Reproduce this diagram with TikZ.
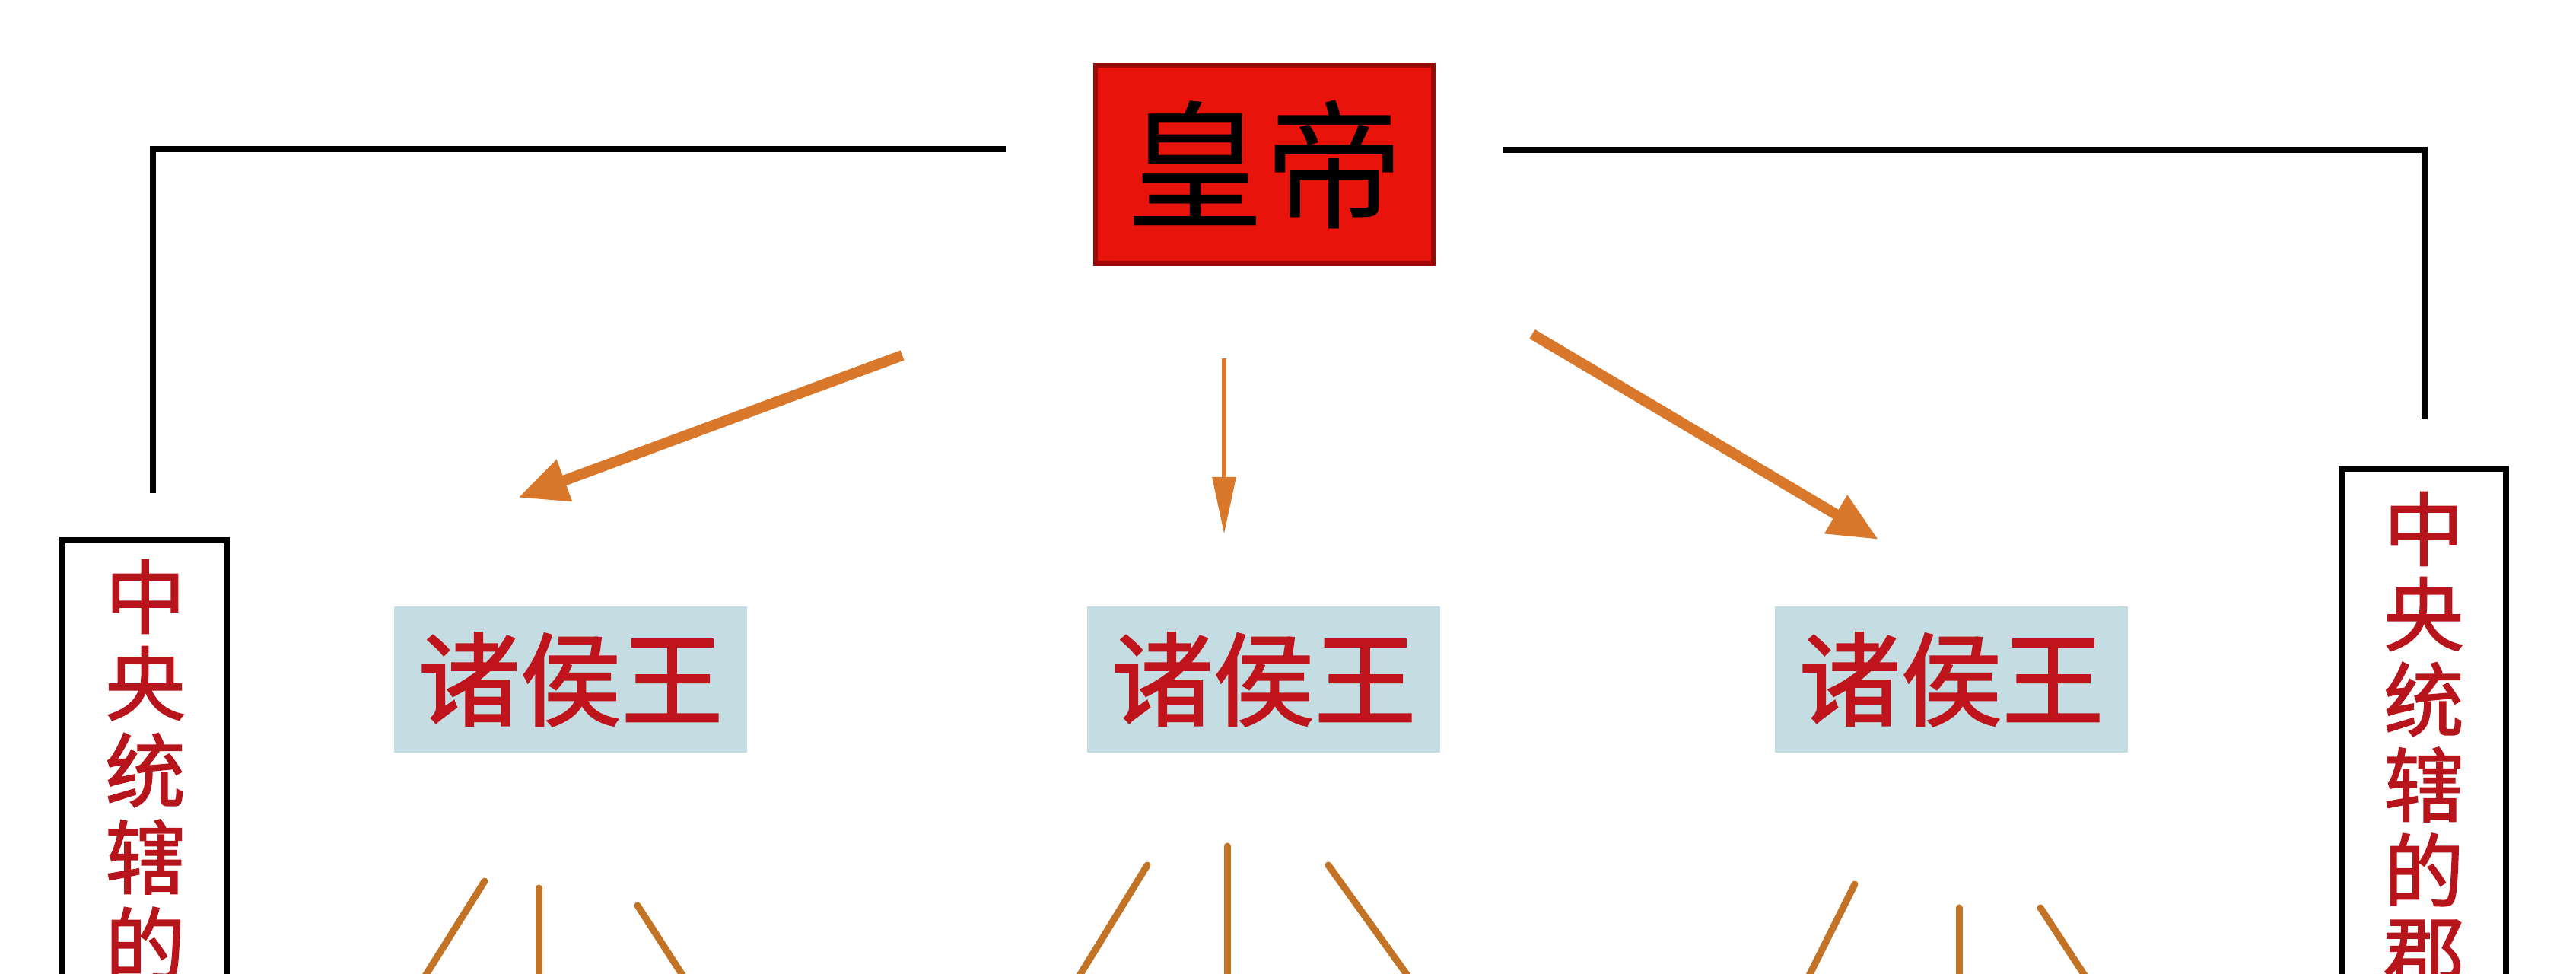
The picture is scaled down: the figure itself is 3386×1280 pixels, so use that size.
\documentclass[tikz,border=0pt]{standalone}
\usepackage{fontspec}
\setmainfont{Noto Sans CJK SC}
\newfontfamily\cjkheavy[FakeBold=1.6]{Noto Sans CJK SC}
\usetikzlibrary{arrows.meta}
\definecolor{empfill}{HTML}{E8140C}
\definecolor{empdraw}{HTML}{9A0A06}
\definecolor{princefill}{HTML}{C4DDE2}
\definecolor{princetext}{HTML}{C0141C}
\definecolor{vtextcol}{HTML}{B8141C}
\definecolor{arrowcol}{HTML}{D9772A}
\definecolor{branchcol}{HTML}{C27326}
\begin{document}
\begin{tikzpicture}[x=0.01cm,y=-0.01cm,
  empbox/.style={draw=empdraw,fill=empfill,line width=0.06cm,minimum width=4.43cm,minimum height=2.6cm,inner sep=0pt,text=black,font=\fontsize{52pt}{56pt}\selectfont},
  princebox/.style={fill=princefill,minimum width=4.63cm,minimum height=1.91cm,inner sep=0pt,text=princetext,font=\cjkheavy\fontsize{38pt}{42pt}\selectfont},
  sidebox/.style={draw=black,fill=white,line width=0.08cm,minimum width=2.15cm,minimum height=9cm,inner sep=0pt},
  vchar/.style={inner sep=0pt,text=vtextcol,font=\cjkheavy\fontsize{30pt}{32pt}\selectfont},
  blackline/.style={draw=black,line width=0.08cm,line join=miter},
  sidearrow/.style={draw=arrowcol,line width=0.14cm,-{Triangle[length=0.65cm,width=0.55cm]}},
  midarrow/.style={draw=arrowcol,line width=0.06cm,-{Triangle[length=0.75cm,width=0.3cm]}},
  branch/.style={draw=branchcol,line width=0.09cm,line cap=round}]
\useasboundingbox (0,0) rectangle (3386,1280);
\clip (0,0) rectangle (3386,1280);
\fill[white] (0,0) rectangle (3386,1280);
% emperor
\node[empbox] (emp) at (1662,216) {皇帝};
% princes
\node[princebox] (p1) at (750,893) {诸侯王};
\node[princebox] (p2) at (1661,893) {诸侯王};
\node[princebox] (p3) at (2565,893) {诸侯王};
% side boxes
\node[sidebox,anchor=north] (lbox) at (190,706) {};
\node[sidebox,anchor=north] (rbox) at (3186,612) {};
\foreach \c [count=\i] in {中,央,统,辖,的}
  \node[vchar] (lc\i) at (191,{784+(\i-1)*114}) {\c};
\foreach \c [count=\i] in {中,央,统,辖,的,郡}
  \node[vchar] (rc\i) at (3186,{695+(\i-1)*112}) {\c};
% black connectors
\coordinate (lstart) at (1322,196);
\coordinate (lend) at (201,648);
\coordinate (rstart) at (1976,197);
\coordinate (rend) at (3187,551);
\draw[blackline] (lstart) -| (lend);
\draw[blackline] (rstart) -| (rend);
% arrows
\coordinate (a1s) at (1186,467); \coordinate (a1e) at (681,654);
\coordinate (a2s) at (1609,471); \coordinate (a2e) at (1609,702);
\coordinate (a3s) at (2014,439); \coordinate (a3e) at (2469,709);
\draw[sidearrow] (a1s) -- (a1e);
\draw[midarrow] (a2s) -- (a2e);
\draw[sidearrow] (a3s) -- (a3e);
% branches below princes
\coordinate (b11s) at (637,1158); \coordinate (b11e) at (548,1300);
\coordinate (b12s) at (708,1167); \coordinate (b12e) at (708,1300);
\coordinate (b13s) at (838,1190); \coordinate (b13e) at (909,1300);
\coordinate (b21s) at (1508,1137); \coordinate (b21e) at (1408,1300);
\coordinate (b22s) at (1613,1112); \coordinate (b22e) at (1613,1300);
\coordinate (b23s) at (1746,1137); \coordinate (b23e) at (1863,1300);
\coordinate (b31s) at (2438,1162); \coordinate (b31e) at (2369,1300);
\coordinate (b32s) at (2575,1193); \coordinate (b32e) at (2575,1300);
\coordinate (b33s) at (2682,1193); \coordinate (b33e) at (2752,1300);
\foreach \g in {1,2,3}{
  \foreach \k in {1,2,3}{
    \draw[branch] (b\g\k s) -- (b\g\k e);
  }
}
\end{tikzpicture}
\end{document}
